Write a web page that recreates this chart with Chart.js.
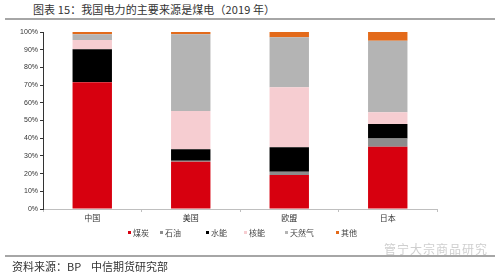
<!DOCTYPE html>
<html>
<head>
<meta charset="utf-8">
<script src="https://cdn.jsdelivr.net/npm/chart.js"></script>
<style>
    body { margin: 0; background: #fff; }
    #wrap { position: relative; width: 499px; height: 272px; overflow: hidden; font-family: "Noto Sans CJK SC", "Noto Sans", sans-serif; }
    #chart { position: absolute; left: 0; top: 0; }
    .title { position: absolute; left: 33px; top: 1px; font-size: 11px; color: #333; white-space: nowrap; letter-spacing: 0.1px; }
    .rule { position: absolute; left: 5px; width: 490px; height: 2px; background: #a6a6a6; }
    .source { position: absolute; left: 12px; top: 258px; font-size: 11px; color: #333; white-space: nowrap; }
    .mark { position: absolute; left: 384px; top: 240px; font-size: 12px; color: #cfcfcf; white-space: nowrap; letter-spacing: 1px; }
</style>
</head>
<body>
<div id="wrap">
    <div class="title">图表 15：我国电力的主要来源是煤电（2019 年）</div>
    <div class="rule" style="top:18px"></div>
    <canvas id="chart" width="499" height="272"></canvas>
    <div class="mark">管宁大宗商品研究</div>
    <div class="rule" style="top:255px"></div>
    <div class="source">资料来源：BP&nbsp;&nbsp;&nbsp;&nbsp;中信期货研究部</div>
</div>
<script>
// categories and shares (%)
const regions = ['中国', '美国', '欧盟', '日本'];
const sources = ['煤炭', '石油', '水能', '核能', '天然气', '其他'];
const coal    = [71.6, 26.7, 19.2, 35.2];
const oil     = [0.2, 0.5, 1.9, 4.7];
const hydro   = [18.4, 6.5, 13.8, 8.1];
const nuclear = [5.3, 21.7, 33.9, 6.6];
const gas     = [3.2, 43.3, 28.2, 40.5];
const other   = [1.3, 1.3, 3.0, 4.9];
const yTicks  = ['0%', '10%', '20%', '30%', '40%', '50%', '60%', '70%', '80%', '90%', '100%'];

const colors = ['#d7000f', '#8c8c8c', '#000000', '#f6cdd1', '#b4b4b4', '#e36a1a'];
const series = [coal, oil, hydro, nuclear, gas, other];

// legend drawn by hand so it sits where the original one does
const legendPlugin = {
    id: 'bottomLegend',
    afterDraw(chart) {
        const ctx = chart.ctx;
        const xs = [128, 160, 206, 244, 285, 336];
        ctx.save();
        ctx.font = '8px "Noto Sans CJK SC"';
        ctx.textBaseline = 'middle';
        sources.forEach((name, i) => {
            ctx.fillStyle = colors[i];
            ctx.fillRect(xs[i], 231, 3, 3);
            ctx.fillStyle = '#444';
            ctx.fillText(name, xs[i] + 5, 233);
        });
        ctx.restore();
    }
};

new Chart(document.getElementById('chart'), {
    type: 'bar',
    data: {
        labels: regions,
        datasets: series.map((data, i) => ({
            label: sources[i],
            data: data,
            backgroundColor: colors[i],
            borderWidth: 0,
            categoryPercentage: 1,
            barPercentage: 0.4
        }))
    },
    options: {
        responsive: false,
        animation: false,
        layout: { padding: { top: 32, left: 0, right: 62, bottom: 47 } },
        plugins: {
            legend: { display: false },
            tooltip: { enabled: false }
        },
        scales: {
            x: {
                stacked: true,
                afterFit: s => { s.height = 16; },
                grid: { offset: true, drawOnChartArea: false, tickLength: 3, color: '#bfbfbf' },
                border: { color: '#bfbfbf', width: 1 },
                ticks: { color: '#333', font: { size: 8, family: 'Noto Sans CJK SC' }, padding: 1 }
            },
            y: {
                stacked: true,
                min: 0,
                max: 100,
                afterFit: s => { s.width = 43; },
                grid: { drawOnChartArea: false, tickLength: 3, color: '#333' },
                border: { color: '#333', width: 1 },
                ticks: {
                    stepSize: 10,
                    color: '#333',
                    padding: 2,
                    font: { size: 7, family: 'Liberation Sans' },
                    callback: (v, i) => yTicks[i]
                }
            }
        }
    },
    plugins: [legendPlugin]
});
</script>
</body>
</html>
